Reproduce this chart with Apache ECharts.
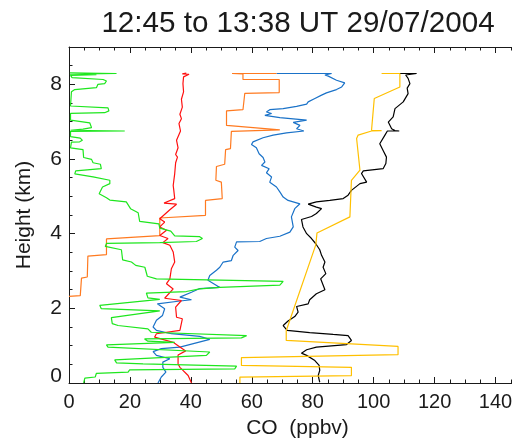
<!DOCTYPE html>
<html>
<head>
<meta charset="utf-8">
<script src="https://cdn.jsdelivr.net/npm/echarts@6/dist/echarts.min.js"></script>
<style>
  html, body { margin: 0; padding: 0; background: #fff; }
  #chart { width: 512px; height: 443px; }
</style>
</head>
<body>
<div id="chart"></div>
<script>
// profiles: [CO (ppbv), height (km)]
var greenProfile = [
  [0.3, 8.31], [15.6, 8.29], [0.3, 8.27], [9.0, 8.26], [0.5, 8.24], [1.0, 8.18], [11.2, 8.13], [12.3, 8.09],
  [11.7, 8.02], [9.5, 8.0], [9.0, 7.91], [1.9, 7.86], [0.8, 7.8], [0.5, 7.42], [12.8, 7.37], [13.1, 7.29],
  [11.7, 7.24], [0.5, 7.22], [0.5, 7.04], [6.8, 6.97], [7.4, 6.84], [4.6, 6.8], [0.5, 6.77], [18.3, 6.75],
  [0.5, 6.74], [0.5, 6.6], [3.7, 6.56], [4.4, 6.5], [3.5, 6.46], [0.8, 6.45], [0.5, 6.3], [4.6, 6.25],
  [4.8, 6.04], [7.4, 5.99], [7.9, 5.9], [10.3, 5.86], [10.6, 5.74], [2.2, 5.68], [1.9, 5.6], [7.9, 5.52],
  [13.4, 5.43], [13.4, 5.34], [11.0, 5.25], [9.9, 5.07], [12.3, 4.96], [13.4, 4.9], [18.8, 4.85], [20.2, 4.67],
  [22.7, 4.56], [23.2, 4.33], [29.5, 4.26], [29.8, 4.15], [33.4, 4.07], [34.7, 3.94], [42.9, 3.92], [43.8, 3.87],
  [41.8, 3.79], [29.8, 3.76], [12.3, 3.74], [11.9, 3.66], [17.2, 3.57], [17.6, 3.3], [20.5, 3.24], [21.9, 3.15],
  [24.9, 3.1], [25.7, 2.86], [28.7, 2.79], [70.3, 2.72], [69.2, 2.62], [49.5, 2.56], [42.9, 2.52], [38.5, 2.45],
  [25.4, 2.41], [25.9, 2.28], [29.8, 2.24], [10.1, 2.08], [10.6, 1.99], [29.8, 1.93], [13.9, 1.75], [14.2, 1.59],
  [16.1, 1.54], [25.9, 1.45], [27.0, 1.36], [58.3, 1.27], [56.6, 1.21], [24.8, 1.18], [25.9, 1.12], [34.7, 1.09],
  [34.2, 1.05], [12.3, 1.02], [12.8, 0.96], [46.2, 0.83], [45.1, 0.74], [15.0, 0.62], [15.6, 0.54], [24.3, 0.51],
  [55.0, 0.45], [54.4, 0.38], [19.9, 0.35], [19.4, 0.29], [9.0, 0.26], [8.6, 0.16], [5.2, 0.13], [4.8, 0.0]
];
var redProfile = [
  [38.5, 8.3], [37.2, 8.28], [39.4, 8.27], [37.6, 8.2], [37.4, 8.02], [37.6, 7.8], [36.9, 7.6], [37.2, 7.39],
  [36.4, 7.2], [36.9, 7.08], [36.1, 6.95], [36.6, 6.75], [35.3, 6.5], [35.8, 6.3], [35.0, 6.12], [35.6, 6.05],
  [35.0, 5.9], [34.7, 5.61], [34.2, 5.29], [34.4, 5.16], [34.7, 4.94], [31.2, 4.82], [35.3, 4.79], [33.1, 4.64],
  [29.8, 4.4], [31.4, 4.31], [29.8, 4.18], [32.0, 4.09], [29.8, 3.95], [32.5, 3.87], [30.8, 3.76], [33.1, 3.69],
  [34.2, 3.51], [34.7, 3.24], [33.6, 3.06], [33.1, 2.79], [32.0, 2.66], [34.2, 2.52], [31.4, 2.27], [36.9, 2.21],
  [35.0, 2.03], [35.3, 1.76], [37.2, 1.72], [36.4, 1.41], [28.7, 1.32], [28.1, 1.23], [34.2, 1.09], [35.8, 1.0],
  [38.3, 0.86], [35.8, 0.75], [35.8, 0.51], [36.4, 0.42], [37.4, 0.34], [39.1, 0.2], [40.2, 0.0]
];
var orangeProfile = [
  [68.1, 8.29], [53.5, 8.29], [57.1, 8.28], [57.1, 8.13], [69.0, 8.13], [69.0, 7.78], [57.7, 7.76], [57.1, 7.32],
  [51.7, 7.29], [51.7, 6.9], [69.2, 6.78], [53.3, 6.74], [53.0, 6.28], [51.4, 6.25], [51.1, 5.86], [48.4, 5.8],
  [48.2, 5.43], [50.0, 5.38], [50.3, 4.94], [44.8, 4.89], [44.8, 4.49], [29.8, 4.42], [29.8, 3.95], [12.3, 3.86],
  [12.3, 3.44], [6.2, 3.4], [6.0, 2.84], [4.1, 2.81], [3.7, 2.34], [0.0, 2.32]
];
var blueProfile = [
  [68.1, 8.29], [86.2, 8.29], [84.0, 8.25], [85.1, 8.22], [87.8, 8.11], [90.5, 8.04], [89.5, 7.93], [87.8, 7.86],
  [84.5, 7.77], [82.9, 7.71], [80.7, 7.62], [78.5, 7.53], [78.0, 7.47], [74.7, 7.41], [70.3, 7.35], [65.9, 7.32],
  [64.8, 7.26], [66.5, 7.22], [64.3, 7.17], [69.2, 7.11], [78.0, 7.04], [73.6, 6.98], [75.8, 6.9], [74.7, 6.81],
  [77.1, 6.75], [71.4, 6.7], [67.0, 6.64], [63.7, 6.57], [60.4, 6.46], [59.9, 6.39], [61.5, 6.3], [62.4, 6.14],
  [63.7, 6.04], [64.3, 5.92], [63.2, 5.83], [65.7, 5.74], [64.8, 5.63], [66.5, 5.52], [65.9, 5.38], [68.1, 5.25],
  [69.2, 5.12], [70.3, 4.98], [71.9, 4.89], [75.8, 4.8], [74.1, 4.67], [73.0, 4.45], [73.6, 4.18], [72.5, 4.04],
  [69.2, 3.93], [64.8, 3.87], [62.6, 3.79], [55.0, 3.78], [54.4, 3.64], [55.5, 3.55], [53.9, 3.42], [53.3, 3.28],
  [50.6, 3.24], [49.5, 3.1], [48.4, 3.02], [46.2, 2.88], [45.6, 2.75], [47.9, 2.64], [49.5, 2.56], [42.9, 2.53],
  [40.2, 2.43], [36.4, 2.3], [40.2, 2.23], [35.8, 2.19], [29.0, 2.12], [31.4, 1.99], [30.7, 1.81], [28.7, 1.68],
  [27.6, 1.5], [28.7, 1.41], [33.6, 1.32], [42.9, 1.25], [46.2, 1.17], [36.4, 0.96], [30.3, 0.92], [27.6, 0.84],
  [28.7, 0.74], [33.1, 0.65], [30.8, 0.56], [30.8, 0.42], [31.8, 0.29], [30.3, 0.16], [29.2, 0.0]
];
var yellowProfile = [
  [102.6, 8.29], [108.6, 8.29], [108.6, 7.93], [100.2, 7.62], [99.3, 6.77], [102.6, 6.76], [99.3, 6.75],
  [94.9, 6.64], [94.4, 6.55], [95.5, 5.7], [92.7, 5.43], [92.2, 4.45], [81.4, 4.02], [81.0, 3.7], [71.3, 1.4],
  [71.3, 1.14], [108.0, 0.98], [108.0, 0.76], [56.6, 0.68], [56.6, 0.47], [92.7, 0.42], [92.7, 0.2],
  [56.1, 0.16], [56.1, 0.0]
];
var blackProfile = [
  [108.6, 8.29], [114.1, 8.29], [110.5, 8.25], [111.3, 8.16], [111.9, 8.02], [111.0, 7.9], [111.3, 7.75],
  [109.7, 7.53], [107.0, 7.35], [106.4, 7.13], [104.8, 6.99], [105.9, 6.81], [107.0, 6.76], [108.4, 6.75],
  [104.5, 6.75], [103.7, 6.64], [102.0, 6.41], [103.1, 6.23], [104.2, 6.05], [104.0, 5.88], [103.1, 5.74],
  [96.6, 5.68], [96.0, 5.61], [97.7, 5.38], [95.5, 5.34], [92.7, 5.16], [91.6, 5.03], [90.0, 4.94], [85.6, 4.89],
  [81.2, 4.85], [78.5, 4.79], [81.2, 4.71], [82.9, 4.67], [81.2, 4.54], [79.6, 4.46], [76.3, 4.38], [76.8, 4.18],
  [78.0, 4.0], [79.6, 3.87], [81.0, 3.73], [82.3, 3.57], [82.9, 3.42], [84.0, 3.24], [83.4, 3.1], [84.3, 2.93],
  [82.6, 2.79], [84.0, 2.5], [81.2, 2.39], [79.0, 2.23], [78.5, 2.12], [74.7, 2.05], [75.2, 1.9], [74.1, 1.78],
  [71.9, 1.66], [70.3, 1.54], [71.6, 1.41], [79.0, 1.35], [86.7, 1.3], [91.6, 1.27], [92.7, 1.14], [91.1, 1.03],
  [81.2, 0.96], [78.0, 0.89], [76.3, 0.8], [78.0, 0.74], [80.7, 0.6], [82.1, 0.47], [82.3, 0.34], [81.8, 0.2],
  [82.3, 0.02]
];
var xTickLabels = [0, 20, 40, 60, 80, 100, 120, 140];
var yTickLabels = [0, 2, 4, 6, 8];

var font = "'Liberation Sans', Arial, sans-serif";
var ink = "#1a1a1a";

var chart = echarts.init(document.getElementById("chart"), null, { renderer: "canvas" });

function frameAxis(pos, step, tickLen, withLabels) {
  return {
    type: "value",
    position: pos,
    min: 0,
    max: pos === "left" || pos === "right" ? 9 : 150,
    interval: step,
    axisLine: { show: !!withLabels || tickLen > 4, onZero: false, lineStyle: { color: ink, width: 1 } },
    axisTick: { show: true, inside: true, length: tickLen, lineStyle: { color: ink, width: 1 } },
    axisLabel: { show: false },
    splitLine: { show: false }
  };
}

var xMain = frameAxis("bottom", 20, 6, true);
xMain.axisLabel = {
  show: true,
  margin: 9,
  fontSize: 20,
  fontFamily: font,
  color: ink,
  formatter: function (v) { return xTickLabels.indexOf(v) >= 0 ? String(v) : ""; }
};
xMain.name = "CO  (ppbv)";
xMain.nameLocation = "middle";
xMain.nameGap = 35;
xMain.nameMoveOverlap = false;
xMain.nameTextStyle = { fontSize: 21, fontFamily: font, color: ink };

var yMain = frameAxis("left", 2, 6, true);
yMain.axisLabel = {
  show: true,
  margin: 7,
  fontSize: 21,
  fontFamily: font,
  color: ink,
  formatter: function (v) {
    if (yTickLabels.indexOf(v) < 0) return "";
    return v === 0 ? "{z|0}" : String(v);
  },
  rich: { z: { fontSize: 21, fontFamily: font, color: ink, padding: [0, 0, 14, 0] } }
};
yMain.name = "Height (km)";
yMain.nameLocation = "middle";
yMain.nameGap = 34;
yMain.nameMoveOverlap = false;
yMain.nameTextStyle = { fontSize: 21, fontFamily: font, color: ink };

var option = {
  animation: false,
  backgroundColor: "#ffffff",
  title: {
    text: "12:45 to 13:38 UT 29/07/2004",
    left: 298,
    top: 9,
    padding: 0,
    textAlign: "center",
    textStyle: { fontSize: 29.6, fontWeight: "normal", fontFamily: font, color: ink }
  },
  grid: { left: 69, top: 47, right: -14, bottom: 60, containLabel: false, outerBoundsMode: "none" },
  xAxis: [
    xMain,
    frameAxis("top", 20, 6, false),
    frameAxis("bottom", 5, 3.5, false),
    frameAxis("top", 5, 3.5, false)
  ],
  yAxis: [
    yMain,
    frameAxis("left", 0.5, 3.5, false)
  ],
  series: [
    { name: "black", data: blackProfile, color: "#000000" },
    { name: "yellow", data: yellowProfile, color: "#ffc000" },
    { name: "blue", data: blueProfile, color: "#1a72c8" },
    { name: "orange", data: orangeProfile, color: "#ff7a20" },
    { name: "red", data: redProfile, color: "#ff1010" },
    { name: "green", data: greenProfile, color: "#1ee61e" }
  ].map(function (s) {
    return {
      name: s.name,
      type: "line",
      data: s.data,
      symbol: "none",
      showSymbol: false,
      clip: true,
      lineStyle: { color: s.color, width: 1.2 },
      itemStyle: { color: s.color }
    };
  })
};

chart.setOption(option);
</script>
</body>
</html>
